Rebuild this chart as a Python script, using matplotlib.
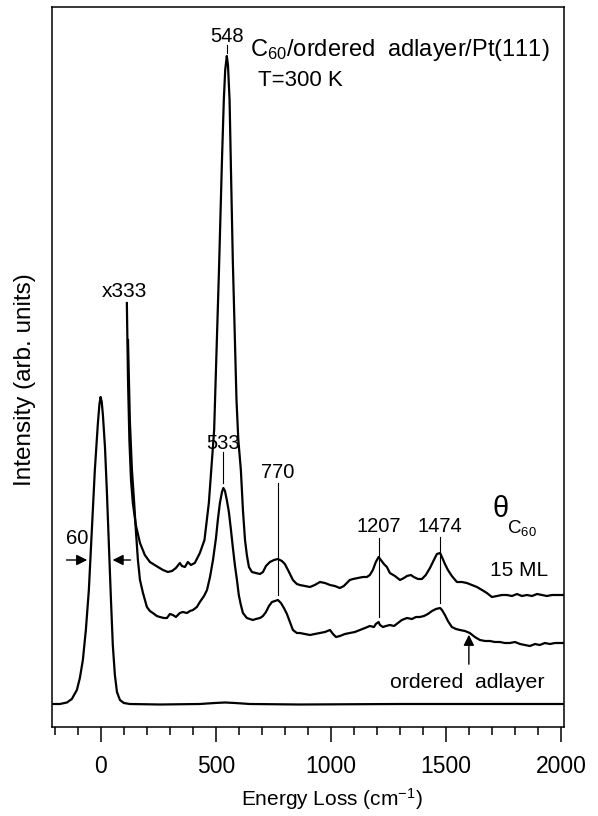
import numpy as np
import matplotlib
matplotlib.use("Agg")
import matplotlib.pyplot as plt

plt.rcParams["font.family"] = ["Liberation Sans", "DejaVu Sans"]
plt.rcParams["mathtext.fontset"] = "custom"
plt.rcParams["mathtext.rm"] = "Liberation Sans"
plt.rcParams["mathtext.it"] = "Liberation Sans"
plt.rcParams["mathtext.default"] = "regular"

# --- spectra (energy loss in cm^-1, intensity in arb. units) ---
elastic_x = [-210, -177, -146, -125, -103, -90, -77, -64, -51, -38, -25, -12, -5,
             0, 5, 10, 19, 27, 36, 45, 53, 62, 71, 84, 101, 127, 257, 431, 496,
             540, 583, 648, 865, 1300, 1734, 2012]
elastic_y = [0, 0, 1.5, 5, 14, 26, 44, 74, 114, 174, 234, 280, 300,
             307, 302, 289, 257, 214, 159, 104, 59, 29, 12, 4, 1, 0, -0.5, 0, 1,
             1.5, 1, 0, -0.5, 0, 0, 0]

ml15_x = [114, 119, 125, 132, 140, 153, 171, 192, 214, 249, 271, 292, 310, 327,
          344, 353, 366, 379, 392, 409, 431, 451, 470, 493, 514, 527, 535, 541,
          548, 553, 560, 566, 574, 582, 590, 598, 609, 618, 627, 635, 644, 657,
          674, 692, 705, 718, 735, 753, 770, 787, 800, 818, 835, 852, 865, 887,
          909, 930, 952, 974, 996, 1017, 1039, 1056, 1069, 1082, 1096, 1117,
          1139, 1156, 1169, 1182, 1195, 1207, 1217, 1230, 1243, 1256, 1278,
          1300, 1317, 1330, 1347, 1360, 1378, 1395, 1412, 1430, 1447, 1460,
          1474, 1482, 1495, 1508, 1525, 1547, 1569, 1590, 1612, 1634, 1656,
          1677, 1699, 1721, 1742, 1764, 1786, 1808, 1829, 1851, 1873, 1895,
          1916, 1938, 1960, 1982, 2012]
ml15_y = [401, 324, 264, 224, 201, 179, 161, 149, 142, 137, 134, 132, 133, 136,
          141, 138, 137, 142, 139, 141, 151, 164, 201, 274, 434, 544, 604, 634,
          648, 639, 604, 534, 444, 374, 304, 264, 234, 194, 164, 149, 137, 132,
          131, 130, 132, 138, 142, 144, 145, 143, 140, 132, 124, 120, 119, 118,
          117, 119, 122, 121, 119, 118, 116, 118, 121, 124, 125, 126,
          127, 127, 129, 134, 142, 147, 144, 140, 137, 131, 128,
          124, 126, 128, 129, 127, 125, 125, 129, 136, 144, 150,
          151, 147, 140, 134, 128, 122, 122, 121, 119, 117, 114,
          111, 107, 108, 109, 109, 108, 110, 108, 109, 108, 110,
          109, 108, 109, 109, 109]

adlayer_x = [119, 127, 136, 145, 153, 162, 171, 184, 201, 214, 227, 244, 257,
             275, 288, 301, 314, 327, 344, 357, 375, 388, 401, 418, 431, 449,
             462, 475, 488, 501, 509, 518, 527, 533, 540, 548, 557, 566, 574,
             583, 592, 600, 609, 618, 635, 648, 661, 674, 692, 705, 718, 731,
             744, 757, 770, 783, 796, 809, 822, 835, 852, 865, 887, 909, 930,
             952, 974, 996, 1009, 1022, 1039, 1061, 1082, 1104, 1126, 1148,
             1169, 1187, 1195, 1207, 1213, 1226, 1239, 1256, 1274, 1291, 1308,
             1330, 1352, 1369, 1386, 1404, 1421, 1439, 1456, 1474, 1482, 1495,
             1508, 1525, 1543, 1560, 1582, 1603, 1625, 1647, 1669, 1690, 1712,
             1734, 1755, 1777, 1799, 1821, 1842, 1864, 1886, 1907, 1929, 1951,
             1973, 2012]
adlayer_y = [364, 284, 234, 204, 174, 144, 124, 111, 97, 93, 91, 88, 87,
             86, 86, 90, 89, 87, 91, 92, 91, 93, 94, 97, 102, 108,
             114, 127, 144, 166, 184, 201, 212, 216, 213, 204, 192, 174, 157,
             139, 124, 109, 99, 91, 86, 85, 84, 85, 86, 88, 92, 98,
             102, 103, 104, 101, 96, 90, 82, 74, 71, 71, 70, 69, 70,
             71, 72, 74, 70, 67, 68, 70, 71, 72, 74, 76,
             78, 77, 80, 82, 79, 77, 78, 79, 78, 81, 84,
             86, 85, 87, 87, 88, 90, 93, 95, 96, 94, 89,
             83, 77, 75, 74, 73, 71, 67, 64, 63, 63, 62,
             62, 61, 61, 62, 60, 59, 58, 60, 59, 61, 60,
             61, 61]

# peak labels: (position, text height, line top, line bottom)
peak_pos = [548, 533, 770, 1207, 1474]
peak_text_y = [668, 261, 232, 177, 177]
peak_line_top = [659, 252, 221, 166, 167]
peak_line_bot = [651, 221, 109, 87, 101]

xticks_major = [0, 500, 1000, 1500, 2000]

fig = plt.figure(figsize=(5.98, 8.16), dpi=100)
ax = fig.add_axes([52 / 598, 1 - 727 / 816, 512 / 598, 720 / 816])

lw = 1.6
ax.plot(elastic_x, elastic_y, color="black", lw=lw)
ax.plot(ml15_x, ml15_y, color="black", lw=lw)
ax.plot(adlayer_x, adlayer_y, color="black", lw=lw)

for p, ty, lt, lb in zip(peak_pos, peak_text_y, peak_line_top, peak_line_bot):
    ax.plot([p, p], [lb, lt], color="black", lw=0.8)
    ax.text(p, ty, f"{p}", ha="center", va="center", fontsize=14.5)

# x333 label and the resolution (FWHM) marker on the elastic peak
ax.text(105, 413, "x333", ha="center", va="center", fontsize=15)
ax.annotate("", xy=(-46, 144), xytext=(-160, 144),
            arrowprops=dict(arrowstyle="-|>", color="black", lw=1.0,
                            mutation_scale=16))
ax.annotate("", xy=(40, 144), xytext=(142, 144),
            arrowprops=dict(arrowstyle="-|>", color="black", lw=1.0,
                            mutation_scale=16))
ax.text(-100, 166, "60", ha="center", va="center", fontsize=14.5)

# sample description
ax.text(648, 654, "C$_{60}$/ordered  adlayer/Pt(111)", ha="left", va="center",
        fontsize=17)
ax.text(683, 624, "T=300 K", ha="left", va="center", fontsize=16)

# coverage labels
ax.text(1699, 195, r"$\theta$", ha="left", va="center", fontsize=21,
        math_fontfamily="stix")
ax.text(1766, 176, "C$_{60}$", ha="left", va="center", fontsize=13.5)
ax.text(1690, 133, "15 ML", ha="left", va="center", fontsize=15)
ax.text(1256, 22, "ordered  adlayer", ha="left", va="center", fontsize=15.3)
ax.annotate("", xy=(1599, 72), xytext=(1599, 37),
            arrowprops=dict(arrowstyle="-|>", color="black", lw=1.0,
                            mutation_scale=16))

ax.set_xlim(-211, 2012)
ax.set_ylim(-23, 697)
ax.set_xticks(xticks_major)
ax.set_xticks(np.arange(-200, 2001, 100), minor=True)
ax.set_xticklabels([str(t) for t in xticks_major], fontsize=16.5)
ax.set_yticks([])
ax.tick_params(axis="x", which="major", direction="out", length=11, width=1.1,
               pad=9)
ax.tick_params(axis="x", which="minor", direction="out", length=6, width=1.1)
for s in ax.spines.values():
    s.set_linewidth(1.1)

fig.text(332 / 598, 1 - 799 / 816, "Energy Loss (cm$^{-1}$)", ha="center",
         va="center", fontsize=15)
fig.text(25 / 598, 1 - 380 / 816, "Intensity (arb. units)", ha="center",
         va="center", rotation=90, fontsize=17.5)

fig.savefig("out.png", dpi=100)
